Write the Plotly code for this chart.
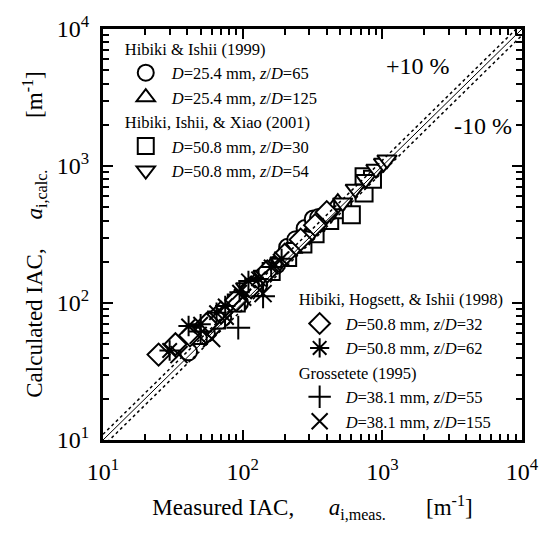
import plotly.graph_objects as go

# ---- data (measured, calculated IAC in 1/m) ----
circle_x = [41, 55, 72, 95, 130, 175, 210, 240, 280, 320, 350]
circle_y = [44, 60, 78, 100, 135, 190, 255, 290, 350, 410, 420]

triup_x = [60, 85, 110, 150, 190, 230, 280, 330, 400, 480]
triup_y = [70, 95, 125, 160, 215, 250, 300, 360, 440, 540]

square_x = [48, 65, 90, 120, 160, 210, 270, 330, 420, 520, 600, 740, 740, 850]
square_y = [58, 75, 100, 130, 170, 215, 270, 320, 400, 480, 440, 835, 636, 800]

tridn_x = [105, 140, 185, 240, 300, 360, 430, 520, 640, 760, 900, 1020, 1080]
tridn_y = [130, 160, 200, 255, 310, 380, 450, 540, 680, 800, 950, 1050, 1112]

diamond_x = [25, 33, 42, 55, 70, 90, 115, 150, 200, 260, 330, 400]
diamond_y = [42, 50, 58, 70, 85, 105, 130, 170, 225, 290, 370, 460]

star_x = [30, 41, 50, 65, 75, 95, 110, 130, 160, 190]
star_y = [45, 68, 70, 85, 95, 120, 145, 150, 183, 210]

plus_x = [50, 93, 140]
plus_y = [62, 66, 112]

cross_x = [35, 48, 60, 75, 100, 140]
cross_y = [42, 58, 55, 80, 110, 117]

line_x = [10, 10000]
ratio_hi = 1.1
ratio_lo = 0.9

tick_vals = [10, 100, 1000, 10000]
tick_text = ["10<sup>1</sup>", "10<sup>2</sup>", "10<sup>3</sup>", "10<sup>4</sup>"]

FONT = "Liberation Serif, Times New Roman, serif"
LEG_SIZE = 16.5
fig = go.Figure()

def add(x, y, sym, name, group, gtitle, legend, filled=True, size=17):
    marker = dict(symbol=sym, size=size,
                  color="white" if filled else "black",
                  line=dict(color="black", width=2))
    fig.add_trace(go.Scatter(
        x=x, y=y, mode="markers", marker=marker, name=name,
        legendgroup=group, legend=legend,
        legendgrouptitle=dict(text=gtitle, font=dict(family=FONT, size=LEG_SIZE, color="black")) if gtitle else None,
    ))

nm = lambda d, z: "<i>D</i>=%s mm, <i>z</i>/<i>D</i>=%s" % (d, z)

add(circle_x, circle_y, "circle", nm("25.4", "65"), "g1", "Hibiki &amp; Ishii (1999)", "legend")
add(triup_x, triup_y, "triangle-up", nm("25.4", "125"), "g1", None, "legend")
add(square_x, square_y, "square", nm("50.8", "30"), "g2", "Hibiki, Ishii, &amp; Xiao (2001)", "legend")
add(tridn_x, tridn_y, "triangle-down", nm("50.8", "54"), "g2", None, "legend")
add(diamond_x, diamond_y, "diamond", nm("50.8", "32"), "g3", "Hibiki, Hogsett, &amp; Ishii (1998)", "legend2")
add(star_x, star_y, "asterisk-open", nm("50.8", "62"), "g3", None, "legend2", filled=False)
add(plus_x, plus_y, "cross-thin-open", nm("38.1", "55"), "g4", "Grossetete (1995)", "legend2", filled=False)
add(cross_x, cross_y, "x-thin-open", nm("38.1", "155"), "g4", None, "legend2", filled=False)

fig.add_trace(go.Scatter(x=line_x, y=line_x, mode="lines", line=dict(color="black", width=1),
                         showlegend=False))
fig.add_trace(go.Scatter(x=line_x, y=[v * ratio_hi for v in line_x], mode="lines",
                         line=dict(color="black", width=1.5, dash="dot"), showlegend=False))
fig.add_trace(go.Scatter(x=line_x, y=[v * ratio_lo for v in line_x], mode="lines",
                         line=dict(color="black", width=1.5, dash="dot"), showlegend=False))

axis_common = dict(
    type="log", range=[1, 4], tickvals=tick_vals, ticktext=tick_text,
    ticks="inside", ticklen=10, tickwidth=2, tickcolor="black",
    showline=True, linewidth=3, linecolor="black", mirror="allticks",
    showgrid=False, zeroline=False,
    tickfont=dict(family=FONT, size=24, color="black"),
    minor=dict(ticks="inside", ticklen=6, tickwidth=1.5, tickcolor="black",
               showgrid=False, dtick="D1"),
)
nb = "\u00a0"
fig.update_xaxes(**axis_common, ticklabelstandoff=8,
                 title=dict(text=f"Measured IAC,{nb*6}<i>a</i><sub>i,meas.</sub>{nb*7}[m<sup>-1</sup>]",
                            font=dict(family=FONT, size=23, color="black"), standoff=16))
fig.update_yaxes(**axis_common, ticklabelstandoff=6,
                 title=dict(text=f"Calculated IAC,{nb*5}<i>a</i><sub>i,calc.</sub>{nb*9}[m<sup>-1</sup>]",
                            font=dict(family=FONT, size=23, color="black"), standoff=8))

leg_common = dict(bgcolor="rgba(0,0,0,0)", borderwidth=0, tracegroupgap=0,
                  font=dict(family=FONT, size=LEG_SIZE, color="black"), itemsizing="trace",
                  itemwidth=42)
fig.update_layout(
    width=551, height=542,
    margin=dict(l=103, r=24, t=19, b=102),
    plot_bgcolor="white", paper_bgcolor="white",
    legend=dict(**leg_common, x=0.04, y=0.995, xanchor="left", yanchor="top"),
    legend2=dict(**leg_common, x=0.455, y=0.385, xanchor="left", yanchor="top"),
    annotations=[
        dict(text="+10 %", x=0.752, y=0.91, xref="paper", yref="paper", showarrow=False,
             xanchor="center", yanchor="middle",
             font=dict(family=FONT, size=24, color="black")),
        dict(text="-10 %", x=0.906, y=0.765, xref="paper", yref="paper", showarrow=False,
             xanchor="center", yanchor="middle",
             font=dict(family=FONT, size=24, color="black")),
    ],
)

fig.write_html("out.html")
